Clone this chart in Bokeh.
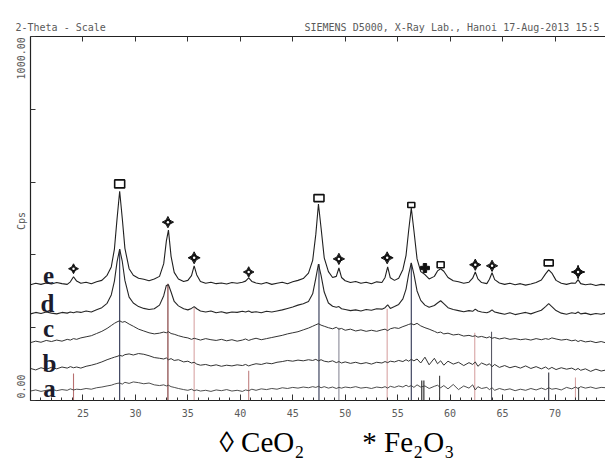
import math
from bokeh.plotting import figure
from bokeh.models import Range1d, LinearAxis, Label, Title, FixedTicker, CustomJSTickFormatter, ColumnDataSource
from bokeh.core.properties import value
from bokeh.embed import file_html
from bokeh.resources import INLINE

# ---------------- data ----------------
two_theta = [
    20.0, 20.5, 21.0, 21.5, 22.0, 22.5, 23.0, 23.5, 23.8, 24.1,
    24.4, 24.8, 25.3, 25.8, 26.3, 26.8, 27.3, 27.7, 28.0, 28.25,
    28.5, 28.75, 29.0, 29.4, 29.8, 30.3, 30.8, 31.3, 31.8, 32.3,
    32.7, 32.95, 33.15, 33.4, 33.7, 34.1, 34.6, 35.0, 35.35, 35.6,
    35.85, 36.2, 36.7, 37.2, 37.7, 38.2, 38.7, 39.2, 39.7, 40.2,
    40.5, 40.8, 41.1, 41.5, 42.0, 42.5, 43.0, 43.5, 44.0, 44.5,
    45.0, 45.5, 46.0, 46.5, 46.9, 47.2, 47.45, 47.7, 48.0, 48.4,
    48.8, 49.15, 49.4, 49.65, 50.0, 50.5, 51.0, 51.5, 52.0, 52.5,
    53.0, 53.5, 53.8, 54.05, 54.3, 54.7, 55.1, 55.5, 55.8, 56.05,
    56.3, 56.55, 56.85, 57.2, 57.6, 58.0, 58.5, 58.8, 59.1, 59.4,
    59.8, 60.3, 60.8, 61.3, 61.8, 62.15, 62.4, 62.65, 63.0, 63.5,
    63.75, 64.0, 64.25, 64.7, 65.2, 65.7, 66.2, 66.7, 67.2, 67.7,
    68.2, 68.7, 69.1, 69.4, 69.7, 70.1, 70.6, 71.1, 71.6, 71.95,
    72.2, 72.45, 72.9, 73.4, 73.9, 74.4, 74.9, 75.4,
]

cps_e = [
    318, 322, 319, 323, 320, 324, 321, 319, 326, 340,
    328, 322, 325, 321, 326, 330, 344, 367, 416, 499,
    575, 500, 418, 362, 344, 336, 333, 329, 334, 341,
    376, 438, 468, 396, 352, 334, 327, 330, 343, 370,
    345, 327, 322, 325, 321, 323, 320, 324, 322, 325,
    328, 337, 327, 323, 320, 324, 319, 322, 325, 321,
    326, 330, 335, 350, 385, 457, 540, 474, 392, 354,
    338, 341, 364, 338, 329, 324, 327, 322, 325, 321,
    326, 324, 338, 367, 337, 330, 336, 360, 399, 467,
    529, 467, 389, 354, 346, 334, 341, 356, 362, 355,
    338, 329, 326, 322, 325, 336, 353, 334, 324, 321,
    333, 351, 332, 323, 319, 322, 318, 321, 317, 320,
    324, 331, 348, 359, 350, 330, 322, 319, 323, 322,
    332, 321, 318, 320, 316, 319, 317, 318,
]

cps_d = [
    238, 242, 239, 243, 240, 238, 242, 240, 243, 241,
    244, 242, 246, 243, 249, 255, 267, 290, 328, 381,
    416, 382, 330, 284, 268, 258, 253, 250, 252, 262,
    288, 316, 318, 298, 272, 260, 252, 249, 253, 258,
    252, 246, 243, 246, 241, 244, 240, 243, 242, 245,
    243, 246, 242, 244, 241, 245, 243, 246, 249, 253,
    257, 262, 266, 272, 293, 336, 375, 344, 298, 268,
    259, 256, 258, 252, 250, 247, 249, 246, 250, 248,
    252, 251, 255, 263, 253, 258, 264, 279, 306, 347,
    378, 347, 301, 275, 262, 256, 261, 268, 274, 266,
    255, 250, 247, 244, 247, 245, 251, 246, 243, 241,
    244, 249, 243, 240, 237, 241, 236, 239, 242, 238,
    243, 248, 258, 266, 258, 247, 240, 237, 241, 239,
    243, 238, 240, 236, 239, 237, 240, 238,
]

cps_c = [
    159, 163, 160, 165, 162, 166, 163, 168, 166, 170,
    168, 172, 175, 178, 184, 190, 198, 206, 212, 216,
    219, 215, 217, 210, 204, 196, 191, 186, 183, 185,
    188, 186, 189, 184, 182, 178, 174, 172, 168, 171,
    169, 166, 170, 167, 165, 168, 164, 167, 163, 166,
    169, 165, 168, 171, 167, 170, 173, 176, 179, 183,
    186, 189, 194, 199, 204, 208, 211, 207, 204, 200,
    197, 201, 196, 198, 193, 196, 191, 194, 190, 193,
    190, 194, 196, 192, 197, 200, 198, 203, 206, 209,
    211, 208, 212, 205, 200, 196, 190, 186, 188, 183,
    185, 180, 182, 177, 179, 176, 178, 174, 176, 172,
    175, 171, 173, 169, 172, 168, 170, 167, 169, 166,
    170, 167, 170, 168, 172, 169, 166, 168, 164, 166,
    162, 165, 161, 163, 159, 162, 158, 160,
]

cps_b = [
    88, 84, 90, 86, 91, 87, 92, 89, 93, 90,
    92, 89, 94, 97, 101, 106, 112, 116, 119, 121,
    124, 122, 126, 128, 125, 129, 127, 123, 118, 116,
    114, 117, 112, 115, 110, 112, 106, 108, 103, 105,
    100, 97, 99, 95, 98, 94, 97, 95, 98, 96,
    99, 95, 98, 101, 99, 103, 101, 105, 107, 110,
    108, 111, 109, 112, 110, 113, 109, 112, 108, 106,
    109, 104, 107, 103, 106, 102, 105, 101, 104, 100,
    105, 103, 107, 104, 108, 106, 110, 107, 112, 108,
    113, 109, 114, 103, 119, 98, 116, 101, 109, 97,
    108, 100, 105, 96, 104, 99, 106, 94, 103, 97,
    101, 93, 99, 91, 96, 90, 94, 89, 95, 88,
    93, 87, 92, 86, 91, 85, 90, 86, 89, 84,
    88, 83, 87, 80, 86, 81, 84, 82,
]

cps_a = [
    26, 29, 25, 28, 31, 27, 30, 28, 32, 29,
    31, 30, 33, 31, 35, 37, 40, 42, 45, 47,
    48, 45, 50, 47, 51, 49, 46, 48, 43, 41,
    43, 40, 42, 38, 36, 33, 30, 28, 31, 27,
    29, 26, 28, 25, 29, 27, 30, 26, 28, 25,
    29, 27, 31, 28, 32, 30, 33, 31, 35, 33,
    36, 34, 37, 35, 38, 36, 39, 35, 38, 34,
    37, 33, 36, 34, 37, 35, 38, 34, 36, 33,
    37, 35, 38, 34, 39, 36, 40, 37, 42, 38,
    41, 36, 43, 37, 40, 33, 39, 42, 35, 41,
    32, 44, 30, 40, 34, 43, 29, 38, 33, 36,
    30, 35, 28, 33, 29, 32, 27, 31, 28, 33,
    29, 34, 30, 35, 31, 33, 29, 36, 32, 37,
    33, 38, 34, 37, 33, 36, 35, 38,
]

for tr in (cps_a, cps_b, cps_c, cps_d, cps_e):
    assert len(tr) == len(two_theta)

# reference (stick) pattern lines
ref_pos = [24.1, 28.5, 33.1, 35.6, 40.8, 47.5, 49.4, 54.0, 56.3, 57.3, 57.5, 59.0, 62.35, 63.95, 69.4, 71.95, 72.25]
ref_int = [74, 416, 321, 255, 82, 375, 200, 252, 378, 55, 55, 68, 186, 189, 77, 63, 36]

# peak markers on pattern e
ceo2_peaks = [28.5, 47.5, 56.3, 59.1, 69.4]
ceo2_mark = [595, 556, 537, 373, 378]
fe2o3_peaks = [24.1, 33.1, 35.6, 40.8, 49.4, 54.0, 62.4, 64.0, 72.2]
fe2o3_mark = [362, 490, 392, 353, 389, 392, 373, 370, 353]
other_peaks = [57.6]
other_mark = [364]

sample_names = ["e", "d", "c", "b", "a"]
x_ticks = [25, 30, 35, 40, 45, 50, 55, 60, 65, 70]
x_minor = list(range(20, 76))
y_ticks = [0, 200, 400, 600, 800, 1000]

header_left = "2-Theta - Scale"
header_right = "SIEMENS D5000, X-Ray Lab., Hanoi 17-Aug-2013 15:5"
y_top_label, y_mid_label, y_bottom_label = "1000.00", "Cps", "0.00"
legend_ceo2 = "\u25ca CeO\u2082"
legend_fe2o3 = "* Fe\u2082O\u2083"

# ---------------- layout helpers (canvas px -> data) ----------------
X0 = 20.0
X1 = X0 + (605 - 30) / 10.49
Y0, Y1 = 0.0, 1000.0


def px_x(px):
    return X0 + (px - 30) / 10.49


def px_y(py):
    return (400 - py) / 0.364


MONO = "DejaVu Sans Mono"
SERIF = "Liberation Serif"
GRAY = "#5a5a5a"
NB = "\u00a0"

p = figure(width=605, height=463, output_backend="svg", toolbar_location=None,
           x_range=Range1d(X0, X1), y_range=Range1d(Y0, Y1),
           x_axis_location=None, y_axis_location=None,
           min_border_left=30, min_border_right=0, min_border_top=36, min_border_bottom=63)
p.outline_line_color = None
p.xgrid.visible = False
p.ygrid.visible = False
p.background_fill_color = "white"
p.border_fill_color = "white"

blank = CustomJSTickFormatter(code="return ''")

xb = LinearAxis(ticker=FixedTicker(ticks=x_ticks, minor_ticks=x_minor))
xb.axis_line_color = "#222222"
xb.major_tick_in = 6
xb.major_tick_out = 0
xb.minor_tick_in = 3
xb.minor_tick_out = 0
xb.major_tick_line_color = "#333333"
xb.minor_tick_line_color = "#333333"
xb.major_label_standoff = 8
xb.major_label_text_font = MONO
xb.major_label_text_font_size = "10px"
xb.major_label_text_color = GRAY
p.add_layout(xb, "below")

xt = LinearAxis(ticker=FixedTicker(ticks=x_ticks, minor_ticks=[]), formatter=blank)
xt.axis_line_color = "#222222"
xt.major_tick_in = 5
xt.major_tick_out = 0
xt.minor_tick_line_color = None
xt.major_tick_line_color = "#333333"
xt.major_label_standoff = 0
p.add_layout(xt, "above")

yl = LinearAxis(ticker=FixedTicker(ticks=y_ticks, minor_ticks=[]), formatter=blank)
yl.axis_line_color = "#222222"
yl.axis_line_width = 1.2
yl.major_tick_in = 5
yl.major_tick_out = 0
yl.minor_tick_line_color = None
yl.major_tick_line_color = "#333333"
yl.major_label_standoff = 0
p.add_layout(yl, "left")

# header line (monospace, padded so the right part starts near x=305)
p.add_layout(Title(text=header_left + NB * 33 + header_right, align="left", offset=-15,
                   text_font=MONO, text_font_size="10px", text_font_style="normal",
                   text_color=GRAY, standoff=7), "above")

# vertical y-axis captions
p.add_layout(Title(text=y_bottom_label + NB * 24 + y_mid_label + NB * 22 + y_top_label,
                   align="left", offset=2, text_font=MONO, text_font_size="10px",
                   text_font_style="normal", text_color=GRAY, standoff=8), "left")

# phase legend
p.add_layout(Title(text=legend_ceo2 + NB * 8 + legend_fe2o3, align="left", offset=189,
                   text_font=SERIF, text_font_size="29px", text_font_style="normal",
                   text_color="black", standoff=8), "below")

# stick pattern
ref_colors = ["#b87070", "#2e3452", "#7a3030", "#d8a4a4", "#c08080", "#2e3452", "#8a8a98",
              "#d8a4a4", "#2e3452", "#202020", "#202020", "#3a3a3a", "#d8a4a4", "#5a5a66",
              "#333340", "#d8a4a4", "#444444"]
p.segment(x0=ref_pos, y0=[0] * len(ref_pos), x1=ref_pos, y1=ref_int,
          line_color=ref_colors, line_width=1.1)

# patterns
for tr, col, lw in ((cps_a, "#3a3a3a", 0.9), (cps_b, "#333333", 1.0), (cps_c, "#333333", 1.0),
                    (cps_d, "#262626", 1.1), (cps_e, "#202020", 1.1)):
    p.line(two_theta, tr, line_color=col, line_width=lw)

# markers
sq = ColumnDataSource(dict(x=ceo2_peaks, y=ceo2_mark, w=[10, 10, 7, 7, 9], h=[8, 7, 5, 6, 6]))
p.rect(x="x", y="y", width="w", height="h", width_units="screen", height_units="screen",
       source=sq, fill_color="white", line_color="#111111", line_width=1.6)

st = ColumnDataSource(dict(x=fe2o3_peaks, y=fe2o3_mark, s=[7, 8, 8.5, 7.5, 8, 8.5, 8, 8, 9.5]))
p.scatter(x="x", y="y", size="s", source=st, marker="square_pin", angle=math.pi / 4,
          fill_color="#111111", line_color="#111111", line_width=1)
p.scatter(x=fe2o3_peaks, y=fe2o3_mark, marker="circle", size=2.5, fill_color="white", line_color=None)
p.scatter(x=other_peaks, y=other_mark, marker="plus", size=9, fill_color="#111111", line_color="#111111")

# sample letters
letter_px = {"e": (48, 275), "d": (47, 303), "c": (48, 328), "b": (49, 363), "a": (49, 388)}
for name in sample_names:
    lx, ly = letter_px[name]
    p.add_layout(Label(x=px_x(lx), y=px_y(ly), text=name, text_font=SERIF, text_font_size="25px",
                       text_font_style="bold", text_color="#1c1c2c", text_align="center",
                       text_baseline="alphabetic"))

open("out.html", "w").write(file_html(p, INLINE))
